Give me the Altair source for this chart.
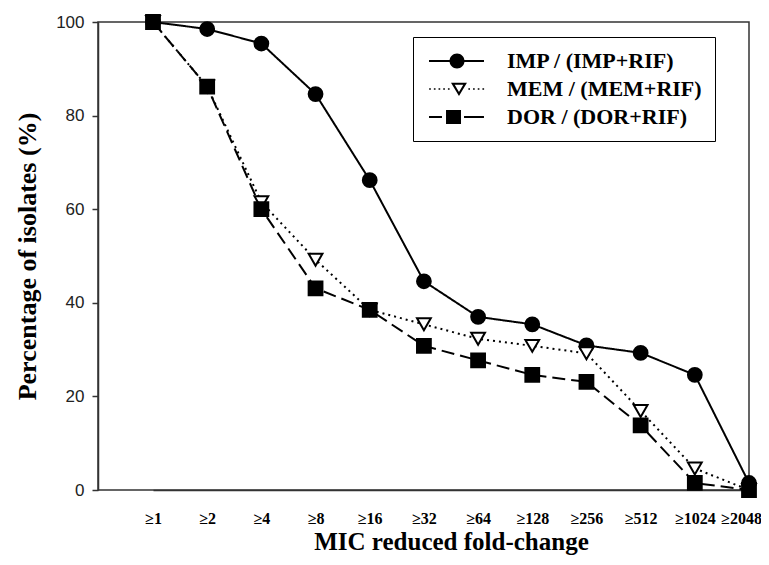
import altair as alt
import pandas as pd

categories = ["≥1", "≥2", "≥4", "≥8", "≥16", "≥32", "≥64", "≥128", "≥256", "≥512", "≥1024", "≥2048"]
series = ["IMP / (IMP+RIF)", "MEM / (MEM+RIF)", "DOR / (DOR+RIF)"]
imp = [100, 98.5, 95.4, 84.6, 66.2, 44.6, 37.0, 35.4, 30.9, 29.3, 24.6, 1.5]
mem = [100, 86.2, 61.5, 49.2, 38.5, 35.4, 32.3, 30.8, 29.2, 16.9, 4.6, 0]
dor = [100, 86.2, 60.0, 43.1, 38.5, 30.8, 27.7, 24.6, 23.1, 13.8, 1.5, 0]

rows = []
for name, vals in zip(series, [imp, mem, dor]):
    for c, v in zip(categories, vals):
        rows.append({"category": c, "series": name, "value": v})
df = pd.DataFrame(rows)

SERIF = "Liberation Serif"
SANS = "Liberation Sans"


def rect(x0, x1, y0, y1):
    return f"M{x0},{y0}H{x1}V{y1}H{x0}Z"


# legend glyphs (line + marker), unit = sqrt(symbolSize)/2
imp_path = rect(-1.14, 6.71, -0.14, 0.14) + " M1.79,0A1.07,1.07 0 1,1 3.93,0A1.07,1.07 0 1,1 1.79,0Z"
dots = "".join(rect(round(c - 0.12, 2), round(c + 0.12, 2), -0.12, 0.12)
               for c in [-1.0, -0.33, 0.34, 1.01, 1.68, 4.6, 5.27, 5.94, 6.61])
mem_path = dots + " M2.0,-0.9L4.28,-0.9L3.14,1.0Z M3.14,0.42L3.75,-0.6L2.53,-0.6Z"
dor_path = rect(-1.14, 0.71, -0.14, 0.14) + rect(1.29, 3.43, -1.0, 1.0) + rect(3.86, 6.71, -0.14, 0.14)

last_label = categories[-1]

x_enc = alt.X(
    "category:N",
    sort=categories,
    scale=alt.Scale(type="point", domain=categories, range=[55, 651], padding=0),
    axis=alt.Axis(
        title="MIC reduced fold-change", labelAngle=0, ticks=False, labelPadding=20,
        labelFont=SERIF, labelFontWeight="bold", labelFontSize=16, labelColor="black",
        labelOffset={"condition": {"test": f"datum.label == '{last_label}'", "value": -8}, "value": 0},
        titleFont=SERIF, titleFontWeight="bold", titleFontSize=25, titleColor="black",
        titlePadding=3, domainColor="#333", domainWidth=1.5, grid=False, labelOverlap=False,
    ),
)
y_enc = alt.Y(
    "value:Q",
    scale=alt.Scale(domain=[0, 100], nice=False),
    axis=alt.Axis(
        values=[0, 20, 40, 60, 80, 100], tickSize=6, tickColor="#333", tickWidth=1.5,
        labelFont=SANS, labelFontSize=17, labelColor="#222", labelPadding=8,
        title="Percentage of isolates (%)", titleFont=SERIF, titleFontWeight="bold",
        titleFontSize=26, titleColor="black", titlePadding=15,
        domainColor="#333", domainWidth=1.5, grid=False,
    ),
)

lines = alt.Chart(df).mark_line(color="black", strokeWidth=2).encode(
    x=x_enc, y=y_enc,
    strokeDash=alt.StrokeDash("series:N", scale=alt.Scale(domain=series, range=[[1, 0], [2, 4], [13, 6]]), legend=None),
    detail="series:N",
)

points = alt.Chart(df).mark_point(strokeWidth=2, stroke="black", opacity=1).encode(
    x=x_enc, y=y_enc,
    shape=alt.Shape("series:N", scale=alt.Scale(domain=series, range=["circle", "triangle-down", "square"]), legend=None),
    fill=alt.Fill("series:N", scale=alt.Scale(domain=series, range=["black", "white", "black"]), legend=None),
    size=alt.Size("series:N", scale=alt.Scale(domain=series, range=[190, 190, 190]), legend=None),
)

legend_layer = alt.Chart(df).mark_point(filled=True, color="black", opacity=0).encode(
    x=x_enc, y=y_enc,
    shape=alt.Shape(
        "series:N",
        scale=alt.Scale(domain=series, range=[imp_path, mem_path, dor_path]),
        legend=alt.Legend(
            title=None, orient="none", legendX=315, legendY=15, padding=13,
            strokeColor="black", fillColor="white", cornerRadius=0,
            symbolSize=196, symbolFillColor="black", symbolStrokeWidth=0, symbolOpacity=1,
            labelFont=SERIF, labelFontWeight="bold", labelFontSize=22, labelColor="black",
            labelOffset=59, rowPadding=6, labelLimit=400,
        ),
    ),
)

chart = (
    alt.layer(lines, points, legend_layer)
    .resolve_scale(shape="independent")
    .properties(
        width=651, height=468,
        padding={"left": 90, "top": 14, "right": 12, "bottom": 66},
        autosize=alt.AutoSizeParams(type="none"),
        background="white",
    )
    .configure_view(stroke="#333", strokeWidth=1.5)
)

chart.save("out.html", embed_options={"renderer": "svg", "actions": False})
